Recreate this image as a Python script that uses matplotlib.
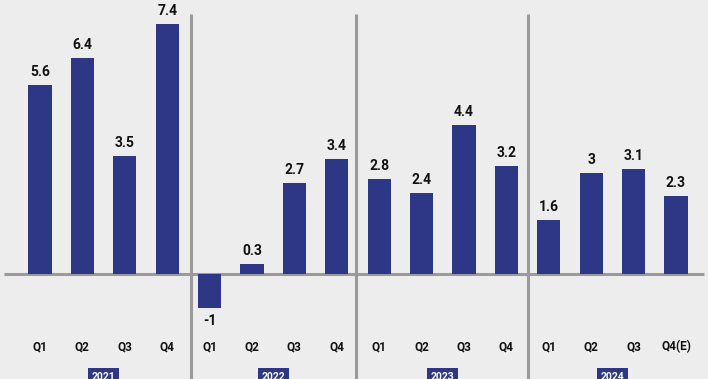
import matplotlib
matplotlib.use("Agg")
import matplotlib.pyplot as plt

years = ["2021", "2022", "2023", "2024"]
quarters = ["Q1", "Q2", "Q3", "Q4", "Q1", "Q2", "Q3", "Q4",
            "Q1", "Q2", "Q3", "Q4", "Q1", "Q2", "Q3", "Q4(E)"]
values = [5.6, 6.4, 3.5, 7.4, -1, 0.3, 2.7, 3.4,
          2.8, 2.4, 4.4, 3.2, 1.6, 3, 3.1, 2.3]
labels = ["5.6", "6.4", "3.5", "7.4", "-1", "0.3", "2.7", "3.4",
          "2.8", "2.4", "4.4", "3.2", "1.6", "3", "3.1", "2.3"]

bar_color = "#2d3785"
bg = "#ededed"
grid_c = "#9a9a9a"

W, H = 708, 379
fig = plt.figure(figsize=(W / 100, H / 100), dpi=100)
fig.patch.set_facecolor(bg)
ax = fig.add_axes([0, 0, 1, 1])
ax.set_facecolor(bg)

slot = 42.4
x0 = 40
base = H - 274
scale = 33.8
xmin, xmax = -x0 / slot, (W - x0) / slot
ax.set_xlim(xmin, xmax)
ax.set_ylim(-base / scale, (H - base) / scale)
ax.axis("off")

xs = list(range(len(values)))
ax.bar(xs, values, width=0.55, color=bar_color, zorder=3)

ax.plot([xmin + 4 / slot, xmax - 4 / slot], [0, 0], color=grid_c, lw=2.2,
        zorder=2, solid_capstyle="butt")
top = (H - 14 - base) / scale
for b in [3.55, 7.45, 11.5]:
    ax.plot([b, b], [top, -base / scale - 1], color=grid_c, lw=2.2, zorder=2,
            solid_capstyle="butt")

font = "Roboto"
for x, v, lab in zip(xs, values, labels):
    if v >= 0:
        ax.text(x, v + 6 / scale, lab, ha="center", va="bottom",
                fontsize=10, fontweight="bold", family=font, color="#111111", zorder=4)
    else:
        ax.text(x, v - 6 / scale, lab, ha="center", va="top",
                fontsize=10, fontweight="bold", family=font, color="#111111", zorder=4)

qy = (H - 347 - base) / scale
for x, q in zip(xs, quarters):
    ax.text(x, qy, q, ha="center", va="center", fontsize=8.5,
            fontweight="bold", family=font, color="#111111")

yy = (H - 377 - base) / scale
for i, yr in enumerate(years):
    ax.text(i * 4 + 1.5, yy, yr, ha="center", va="center", fontsize=7.5,
            fontweight="bold", family=font, color="white",
            bbox=dict(boxstyle="square,pad=0.35", fc=bar_color, ec="none"))

fig.savefig("out.png", dpi=100, facecolor=bg)
